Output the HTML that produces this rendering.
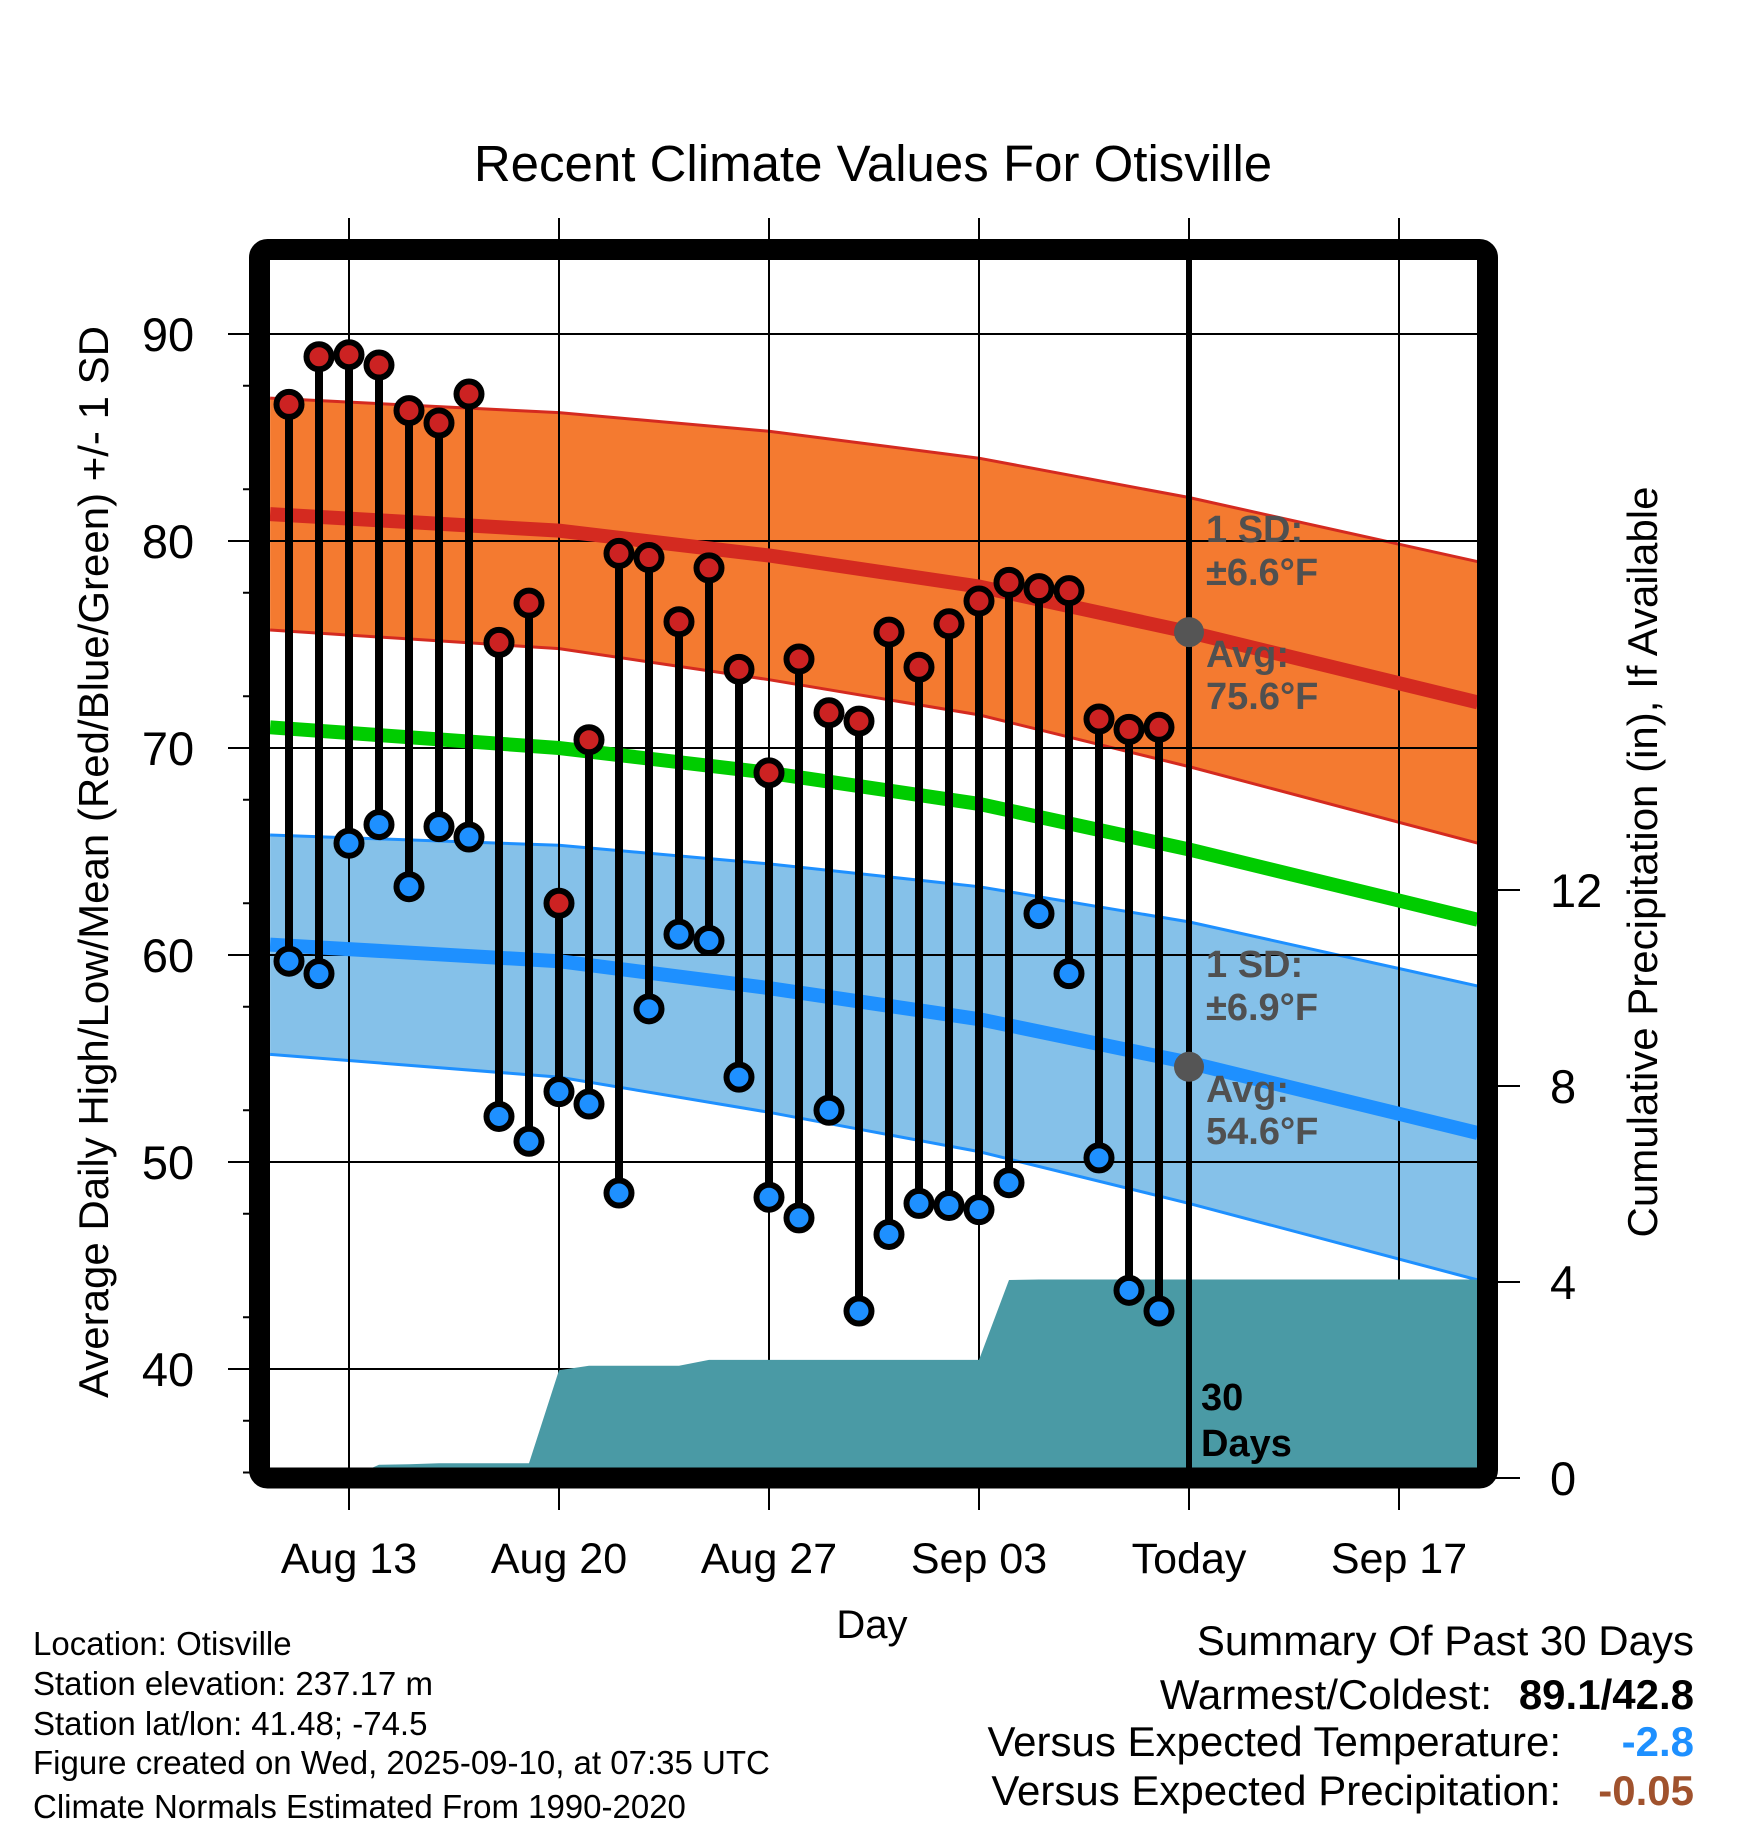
<!DOCTYPE html>
<html><head><meta charset="utf-8"><style>
html,body{margin:0;padding:0;background:#fff}
svg text{font-family:"Liberation Sans",Arial,sans-serif}
</style></head><body>
<svg id="chart" xmlns="http://www.w3.org/2000/svg" width="1748" height="1828" viewBox="0 0 1748 1828">
<g id="bands"></g>
<g id="grid"></g>
<g id="precip"></g>
<g id="lines"></g>
<g id="marks"></g>
<g id="axes"></g>
<text x="873" y="181" font-size="51" text-anchor="middle">Recent Climate Values For Otisville</text>
<text transform="translate(108,862) rotate(-90)" font-size="42" text-anchor="middle">Average Daily High/Low/Mean (Red/Blue/Green) +/- 1 SD</text>
<text transform="translate(1657,862) rotate(-90)" font-size="42" text-anchor="middle">Cumulative Precipitation (in), If Available</text>
<text x="872" y="1638" font-size="40" text-anchor="middle">Day</text>
<g font-size="33">
<text x="33" y="1655">Location: Otisville</text>
<text x="33" y="1695">Station elevation: 237.17 m</text>
<text x="33" y="1735">Station lat/lon: 41.48; -74.5</text>
<text x="33" y="1774">Figure created on Wed, 2025-09-10, at 07:35 UTC</text>
<text x="33" y="1818">Climate Normals Estimated From 1990-2020</text>
</g>
<g font-size="42">
<text x="1694" y="1655" text-anchor="end">Summary Of Past 30 Days</text>
<text x="1492" y="1709" text-anchor="end">Warmest/Coldest:</text>
<text x="1694" y="1709" text-anchor="end" font-weight="bold">89.1/42.8</text>
<text x="1561" y="1756" text-anchor="end">Versus Expected Temperature:</text>
<text x="1694" y="1756" text-anchor="end" font-weight="bold" fill="#1e90ff">-2.8</text>
<text x="1561" y="1805" text-anchor="end">Versus Expected Precipitation:</text>
<text x="1694" y="1805" text-anchor="end" font-weight="bold" fill="#a0522d">-0.05</text>
</g>
</svg>
<script>
// days relative to Aug 13 (0). Daily obs Aug 11 .. Sep 9
const highs=[86.6,88.9,89.0,88.5,86.3,85.7,87.1,75.1,77.0,62.5,70.4,79.4,79.2,76.1,78.7,73.8,68.8,74.3,71.7,71.3,75.6,73.9,76.0,77.1,78.0,77.7,77.6,71.4,70.9,71.0];
const lows=[59.7,59.1,65.4,66.3,63.3,66.2,65.7,52.2,51.0,53.4,52.8,48.5,57.4,61.0,60.7,54.1,48.3,47.3,52.5,42.8,46.5,48.0,47.9,47.7,49.0,62.0,59.1,50.2,43.8,42.8];
const precipDays=[-2,-1,0,1,2,3,4,5,6,7,8,9,10,11,12,13,14,15,16,17,18,19,20,21,22,23,24,25,26,27,28];
const precipCum=[0,0,0,0.27,0.28,0.3,0.3,0.3,0.3,2.2,2.29,2.29,2.29,2.29,2.41,2.41,2.41,2.41,2.41,2.41,2.41,2.41,2.41,2.41,4.04,4.05,4.05,4.05,4.05,4.05,4.05];
const normDays=[-2.63,7,14,21,28,37.63];
const normHigh=[81.3,80.5,79.3,77.8,75.6,72.2];
const normHighSd=[5.6,5.7,6.0,6.2,6.5,6.8];
const normLow=[60.5,59.7,58.4,56.9,54.8,51.4];
const normLowSd=[5.3,5.6,6.0,6.4,6.8,7.1];
const normMean=[71.0,70.0,68.8,67.3,65.1,61.7];
const xTickDays=[0,7,14,21,28,35];
const xTickLabels=["Aug 13","Aug 20","Aug 27","Sep 03","Today","Sep 17"];
const yTicks=[40,50,60,70,80,90];
const y2Ticks=[0,4,8,12];
const todayDay=28, todayHigh=75.6, todayLow=54.6;

const NS="http://www.w3.org/2000/svg";
const L=270,R=1478,T=260,B=1468;
const xs=d=>349+d*30;
const ys=t=>334+(90-t)*20.7;
const yp=p=>1478-p*49;
function el(tag,attrs,parent){const e=document.createElementNS(NS,tag);for(const k in attrs)e.setAttribute(k,attrs[k]);parent.appendChild(e);return e;}
const g=id=>document.getElementById(id);

function band(avg,sd,fill,edge,name){
  const up=normDays.map((d,i)=>xs(d)+","+ys(avg[i]+sd[i]));
  const lo=normDays.map((d,i)=>xs(d)+","+ys(avg[i]-sd[i])).reverse();
  const p=el('polygon',{points:up.concat(lo).join(' '),fill:fill},g('bands'));
  
  
  const a=el('polyline',{points:up.join(' '),fill:'none',stroke:edge,'stroke-width':3},g('bands'));
  
  
  const b=el('polyline',{points:lo.join(' '),fill:'none',stroke:edge,'stroke-width':3},g('bands'));
  
  
}
band(normHigh,normHighSd,'#f47a30','#d42a20','high-sd-band');
band(normLow,normLowSd,'#85c1e9','#1e90ff','low-sd-band');

xTickDays.forEach(d=>{const l=el('line',{x1:xs(d),x2:xs(d),y1:218,y2:1510,stroke:'#000','stroke-width':2},g('grid'));
  
  });
yTicks.forEach(t=>{const l=el('line',{x1:228,x2:R,y1:ys(t),y2:ys(t),stroke:'#000','stroke-width':2},g('grid'));
  
  });

const pp=[xs(-2.63)+","+yp(0)].concat(precipDays.map((d,i)=>xs(d)+","+yp(precipCum[i])));
pp.push(R+","+yp(precipCum[precipCum.length-1]));pp.push(R+","+yp(0));
const pa=el('polygon',{points:pp.join(' '),fill:'#4a9aa5'},g('precip'));



function nline(arr,color,w,name){const p=el('polyline',{points:normDays.map((d,i)=>xs(d)+","+ys(arr[i])).join(' '),fill:'none',stroke:color,'stroke-width':w},g('lines'));
  
  }
nline(normHigh,'#d42a20',14,'avg-high-line');
nline(normMean,'#00cc00',14,'avg-mean-line');
nline(normLow,'#1e90ff',14,'avg-low-line');

const tl=el('line',{x1:xs(todayDay),x2:xs(todayDay),y1:T,y2:B,stroke:'#000','stroke-width':6},g('lines'));


[todayHigh,todayLow].forEach(v=>{const c=el('circle',{cx:xs(todayDay),cy:ys(v),r:15,fill:'#555'},g('lines'));
  
  });
function lbl(txt,x,y,fill,name){const t=el('text',{x:x,y:y,'font-size':38,'font-weight':'bold',fill:fill},g('lines'));t.textContent=txt;
  
  }
const hx=xs(todayDay)+17;
lbl('1 SD:',hx,542,'#505050','high-sd-label');lbl('±6.6°F',hx,585,'#505050','high-sd-value');
lbl('Avg:',hx,667,'#505050','high-avg-label');lbl('75.6°F',hx,709,'#505050','high-avg-value');
lbl('1 SD:',hx,977,'#505050','low-sd-label');lbl('±6.9°F',hx,1020,'#505050','low-sd-value');
lbl('Avg:',hx,1102,'#505050','low-avg-label');lbl('54.6°F',hx,1144,'#505050','low-avg-value');
lbl('30',xs(todayDay)+12,1410,'#000','days-label-30');lbl('Days',xs(todayDay)+12,1456,'#000','days-label');

highs.forEach((h,i)=>{const x=xs(i-2);
  const s=el('line',{x1:x,x2:x,y1:ys(h),y2:ys(lows[i]),stroke:'#000','stroke-width':8},g('marks'));
  
  
  const c1=el('circle',{cx:x,cy:ys(h),r:12.5,fill:'#cc2222',stroke:'#000','stroke-width':6},g('marks'));
  
  
  const c2=el('circle',{cx:x,cy:ys(lows[i]),r:12.5,fill:'#1e90ff',stroke:'#000','stroke-width':6},g('marks'));
  
  
});

const fr=el('rect',{x:259.5,y:249.5,width:1228,height:1228.5,fill:'none',stroke:'#000','stroke-width':21,rx:8},g('axes'));


yTicks.forEach(t=>{const tx=el('text',{x:168,y:ys(t)+17,'font-size':47,'text-anchor':'middle'},g('axes'));tx.textContent=t;
  
  });
[37.5,42.5,47.5,52.5,57.5,62.5,67.5,72.5,77.5,82.5,87.5,35].forEach(t=>{const l=el('line',{x1:243,x2:255,y1:ys(t),y2:ys(t),stroke:'#000','stroke-width':2},g('axes'));
  
  });
y2Ticks.forEach(p=>{const l=el('line',{x1:1495,x2:1520,y1:yp(p),y2:yp(p),stroke:'#000','stroke-width':2},g('axes'));
  
  
  const tx=el('text',{x:1550,y:yp(p)+17,'font-size':47},g('axes'));tx.textContent=p;
  
  });
xTickDays.forEach((d,i)=>{const tx=el('text',{x:xs(d),y:1573,'font-size':43,'text-anchor':'middle'},g('axes'));tx.textContent=xTickLabels[i];
  
  });
</script>
</body></html>
